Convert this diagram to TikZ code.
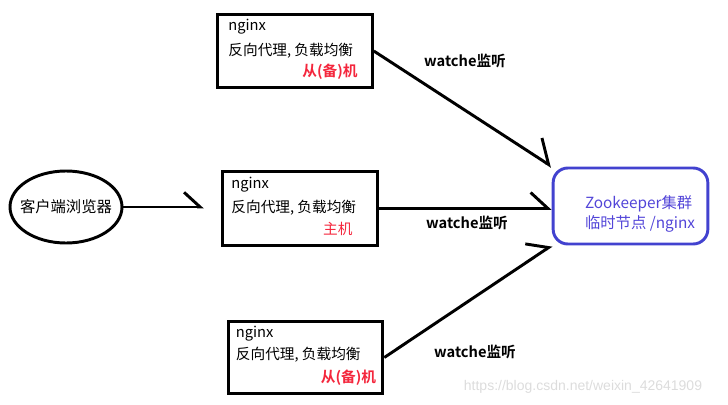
\documentclass[tikz,border=0pt]{standalone}
\usepackage{fontspec}
\setmainfont{Noto Sans CJK SC}[BoldFont={Noto Sans CJK SC Bold}]
\newfontfamily\markfont{Liberation Sans}
\usetikzlibrary{arrows.meta,positioning,calc,shapes.geometric}
\definecolor{ink}{HTML}{000000}
\definecolor{slave}{HTML}{F4263C}
\definecolor{zkline}{HTML}{4242CF}
\definecolor{zktext}{HTML}{5245D8}
\definecolor{wmark}{HTML}{DCDCDC}
\tikzset{
  nbox/.style={draw=ink, line width=2.2pt, minimum width=116pt, minimum height=55pt,
               inner sep=0pt},
  txt/.style={inner sep=0pt, font=\fontsize{11}{13}\selectfont},
  role/.style={txt, text=slave},
  watchlbl/.style={inner sep=0pt, font=\bfseries\fontsize{11}{13}\selectfont},
  link/.style={draw=ink, line width=2.2pt,
               -{Straight Barb[harpoon, length=13pt, width=24pt]}}
}

\begin{document}
\begin{tikzpicture}[x=0.75pt,y=-0.75pt]
        \useasboundingbox (0,0) rectangle (728,404);

        % client
        \node[ellipse, draw=ink, line width=2.2pt, minimum width=84pt, minimum height=54pt,
              inner sep=0pt] (client) at (66,207) {};
        \node[txt, font=\fontsize{11.5}{13}\selectfont] (clientt) at (client.center) {客户端浏览器};

        % nginx boxes
        \node[nbox] (top) at (295,51) {};
        \node[txt, anchor=west] (topn) at ($(top.north west)+(12,14)$) {nginx};
        \node[txt, anchor=west] (topl) at ($(top.north west)+(12,38)$) {反向代理, 负载均衡};
        \node[role, font=\bfseries\fontsize{11}{13}\selectfont, anchor=east] (topr)
          at ($(top.north east)+(-16,59)$) {从(备)机};

        \node[nbox, minimum height=56pt] (mid) at (300,208.5) {};
        \node[txt, anchor=west] (midn) at ($(mid.north west)+(10,15)$) {nginx};
        \node[txt, anchor=west] (midl) at ($(mid.north west)+(10,38)$) {反向代理, 负载均衡};
        \node[role, anchor=east] (midr) at ($(mid.north east)+(-26,59)$) {主机};

        \node[nbox, minimum height=54pt] (bot) at (305.5,357.5) {};
        \node[txt, anchor=west] (botn) at ($(bot.north west)+(9,14)$) {nginx};
        \node[txt, anchor=west] (botl) at ($(bot.north west)+(9,35)$) {反向代理, 负载均衡};
        \node[role, font=\bfseries\fontsize{11}{13}\selectfont, anchor=east] (botr)
          at ($(bot.north east)+(-8,58)$) {从(备)机};

        % zookeeper
        \node[draw=zkline, line width=2.2pt, rounded corners=11pt, minimum width=116pt,
              minimum height=57pt, inner sep=0pt] (zoo) at (630.5,206) {};
        \node[txt, text=zktext, align=left, font=\fontsize{11.5}{13}\selectfont] (zoot)
          at (640,214) {Zookeeper集群\\[2pt]临时节点 /nginx};

        % connectors
        \draw[link, -{Straight Barb[harpoon, length=12pt, width=22pt]}, shorten >=13pt]
          (client.east) -- (client.east -| mid.west);
        \draw[link, -{Straight Barb[harpoon, length=15pt, width=28pt]}] (top.east) -- (zoo.north west);
        \draw[link] (mid.east) -- (mid.east -| zoo.west);
        \draw[link] (bot.east) -- (zoo.south west);

        % labels
        \node[watchlbl] (w1) at (465,61) {watche监听};
        \node[watchlbl] (w2) at (467,223) {watche监听};
        \node[watchlbl] (w3) at (475,352) {watche监听};

        \node[inner sep=0pt, text=wmark, font=\markfont\fontsize{10.5}{12}\selectfont] (wm)
          at (583,387) {https://blog.csdn.net/weixin\_42641909};
      \end{tikzpicture}
\end{document}
